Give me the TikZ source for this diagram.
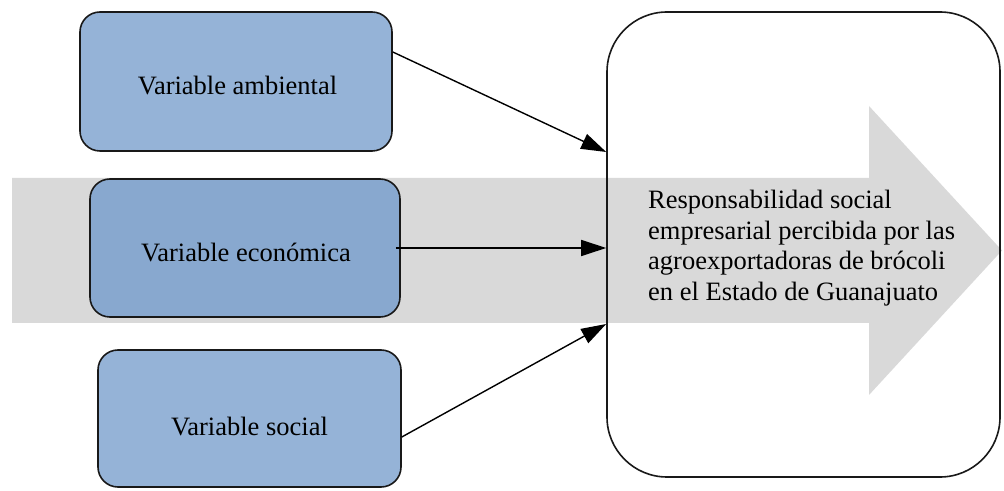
\documentclass[tikz,border=0pt]{standalone}
\usepackage{fontspec}
\setmainfont{Liberation Serif}
\usetikzlibrary{arrows.meta}
\definecolor{boxblue}{HTML}{95B3D7}
\definecolor{boxblued}{HTML}{88A8CF}
\definecolor{bandgray}{HTML}{D9D9D9}
\begin{document}
\begin{tikzpicture}[x=1pt,y=1pt,
  varbox/.style={draw=black!90, line width=1.6pt, rounded corners=20pt, fill=boxblue, inner sep=0pt},
  lbl/.style={inner sep=0pt, font=\fontsize{26.5}{30.7}\selectfont},
  conn/.style={line width=1.4pt, -{Triangle[length=25pt,width=16pt]}}]
\useasboundingbox (0,0) rectangle (1004,490);
% gray background arrow
\fill[bandgray] (12,167) -- (869,167) -- (869,95) -- (1002,239.5) -- (869,384) -- (869,312) -- (12,312) -- cycle;
% left boxes
\node[varbox, minimum width=312pt, minimum height=139pt] (amb) at (236,408.5) {};
\node[varbox, fill=boxblued, minimum width=310pt, minimum height=138pt] (eco) at (245,242) {};
\node[varbox, minimum width=303pt, minimum height=137pt] (soc) at (249.5,71.5) {};
\node[lbl] (tamb) at (237.5,404) {Variable ambiental};
\node[lbl] (teco) at (246,237.5) {Variable económica};
\node[lbl] (tsoc) at (249.5,63) {Variable social};
% big box
\node[draw=black!90, line width=1.6pt, rounded corners=60pt, minimum width=393pt, minimum height=465pt, inner sep=0pt] (R) at (803.5,245.5) {};
\node[lbl, align=left, anchor=north west] (rse) at (648,300) {Responsabilidad social\\empresarial percibida por las\\agroexportadoras de brócoli\\en el Estado de Guanajuato};
% connectors
\draw[conn] ([yshift=29.5pt]amb.east) -- ([yshift=92.5pt]R.west);
\draw[conn] ([xshift=-5pt]eco.east) -- ([yshift=-3.5pt]R.west);
\draw[conn] ([yshift=-18.5pt]soc.east) -- ([yshift=-79.5pt]R.west);
\end{tikzpicture}
\end{document}
